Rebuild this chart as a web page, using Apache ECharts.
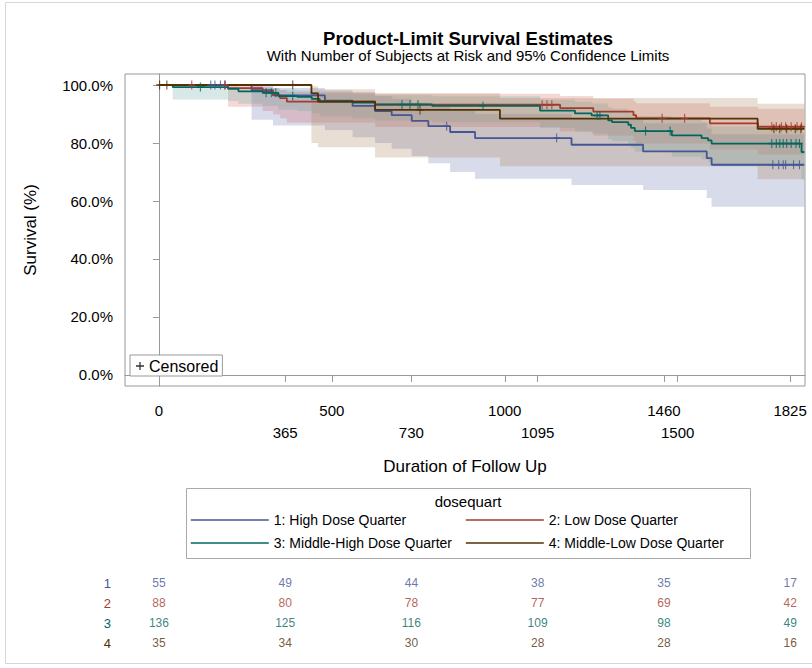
<!DOCTYPE html>
<html><head><meta charset="utf-8">
<script src="https://cdn.jsdelivr.net/npm/echarts@6/dist/echarts.min.js"></script>
<style>html,body{margin:0;padding:0;background:#fff}#c{width:812px;height:668px}</style>
</head><body><div id="c"></div>
<script>
// ---------- data ----------
const groupNames = ['1: High Dose Quarter', '2: Low Dose Quarter', '3: Middle-High Dose Quarter', '4: Middle-Low Dose Quarter'];
const groupLabels = ['1', '2', '3', '4'];
const followUpEnd = 1866;

// Kaplan-Meier step curves: [day, survival %]
const curve1 = [[0,100],[268,98.2],[330,96.4],[480,94.6],[560,92.8],[625,91.0],[673,89.6],[731,87.6],[779,85.8],[842,83.8],[914,81.7],[1193,79.4],[1400,77.1],[1584,74.8],[1598,72.5]];
const curve2 = [[0,100],[200,98.9],[300,97.7],[330,96.6],[350,95.5],[370,94.3],[625,93.2],[1160,92.0],[1256,90.8],[1372,89.6],[1380,88.5],[1593,86.8],[1732,85.6]];
const curve3 = [[0,100],[40,99.3],[200,98.7],[230,97.8],[300,97.3],[345,96.2],[400,95.9],[442,95.2],[465,94.4],[560,93.9],[625,93.3],[790,92.8],[1102,91.2],[1203,90.2],[1251,89.5],[1299,87.8],[1310,87.2],[1357,86.3],[1365,85.2],[1376,84.1],[1483,82.6],[1569,81.7],[1588,80.9],[1598,79.8],[1858,76.9]];
const curve4 = [[0,100],[441,97.1],[460,94.3],[625,91.4],[986,88.4],[1731,84.9]];

// censoring days
const censor1 = [150,162,178,190,832,1150,1775,1792,1805,1812,1835,1852];
const censor2 = [95,192,1108,1122,1136,1455,1520,1772,1785,1800,1812,1828,1845,1858];
const censor3 = [120,310,325,338,387,703,726,749,937,1267,1275,1407,1478,1772,1785,1795,1805,1815,1828,1842,1852];
const censor4 = [2,23,387,755,1778,1795,1815,1840,1856];

// 95% confidence bands: [start day, lower %, upper %]
const band1 = [[268,88,99.7],[330,86,99],[480,84.5,98.2],[560,82,97.3],[625,80,96.2],[673,78,95.3],[731,75.5,94],[779,73,92.8],[842,70,91.5],[914,67.7,90],[1193,65.5,88.5],[1400,63.8,86.8],[1584,61,85],[1598,58,83]];
const band2 = [[200,92.5,99.8],[300,91,99.3],[330,89.8,98.9],[350,88.5,98.3],[370,87,97.6],[625,85.5,97],[1160,84,96.2],[1256,82.5,95.3],[1372,80.8,94.4],[1380,79.8,93.7],[1593,77.8,92.5],[1732,76,91.8]];
const band3 = [[40,95,99.9],[200,94.5,99.6],[230,93.5,99.3],[300,92.8,99],[345,91.5,98.4],[400,91,98.2],[442,90.2,97.8],[465,89.2,97.2],[560,88.5,96.9],[625,87.8,96.5],[790,87.2,96.1],[1102,85.2,94.9],[1203,84,94.2],[1251,83.2,93.6],[1299,81.3,92.3],[1310,80.6,91.8],[1357,79.6,91.1],[1365,78.3,90.2],[1376,77,89.3],[1483,75.3,88],[1569,74.3,87.3],[1588,73.4,86.6],[1598,72,85.7],[1858,67.5,84]];
const band4 = [[441,80,99.6],[460,78.5,98.5],[625,75,97.2],[986,72,95.5],[1731,67.5,93.5]];

// number at risk
const riskDays = [0,365,730,1095,1460,1825];
const risk1 = [55,49,44,38,35,17];
const risk2 = [88,80,78,77,69,42];
const risk3 = [136,125,116,109,98,49];
const risk4 = [35,34,30,28,28,16];

// ticks
const yTicks = [0,20,40,60,80,100];
const xTicks = [0,365,500,730,1000,1095,1460,1500,1825];
const xTicksSecondRow = [365,730,1095,1500];

// ---------- styles ----------
const lineColors = ['#445694','#A23A2E','#01665E','#543005'];
const bandColors = ['rgba(111,126,179,0.28)','rgba(208,91,91,0.24)','rgba(102,165,160,0.26)','rgba(169,134,91,0.27)'];
const FONT = 'Liberation Sans, Arial, Helvetica, sans-serif';
const plusPath = 'path://M4.2,0h1.6v4.2h4.2v1.6h-4.2v4.2h-1.6v-4.2h-4.2v-1.6h4.2z';

const curves = [curve1, curve2, curve3, curve4];
const censors = [censor1, censor2, censor3, censor4];
const bands = [band1, band2, band3, band4];
const risks = [risk1, risk2, risk3, risk4];

function survAt(curve, d) {
  let s = curve[0][1];
  for (const p of curve) if (p[0] <= d) s = p[1];
  return s;
}

const series = [];
bands.forEach((band, g) => {
  const items = band.map((b, i) => [b[0], i + 1 < band.length ? band[i + 1][0] : followUpEnd, b[1], b[2]]);
  series.push({
    type: 'custom', name: 'band' + g, xAxisIndex: 0, yAxisIndex: 0, z: 1, silent: true,
    data: items, encode: { x: [0, 1], y: [2, 3] },
    renderItem: (params, api) => {
      if (params.dataIndex !== 0) return null;
      const up = [], lo = [];
      items.forEach(it => {
        up.push(api.coord([it[0], it[3]]), api.coord([it[1], it[3]]));
        lo.push(api.coord([it[0], it[2]]), api.coord([it[1], it[2]]));
      });
      return { type: 'polygon', shape: { points: up.concat(lo.reverse()) }, style: { fill: bandColors[g] } };
    }
  });
});
curves.forEach((c, g) => {
  series.push({
    type: 'line', name: groupNames[g], step: 'end', symbol: 'none', showSymbol: false, z: 3,
    data: c.concat([[followUpEnd, c[c.length - 1][1]]]),
    lineStyle: { color: lineColors[g], width: 1.8 }, itemStyle: { color: lineColors[g] },
    animation: false
  });
});
censors.forEach((cs, g) => {
  series.push({
    type: 'scatter', name: 'censor' + g, symbol: plusPath, symbolSize: [7, 9], z: 4,
    data: cs.map(d => [d, survAt(curves[g], d)]),
    itemStyle: { color: lineColors[g] }, silent: true, animation: false
  });
});
series.push({ type: 'scatter', name: 'Censored', symbol: plusPath, data: [], itemStyle: { color: '#000' } });
risks.forEach((r, g) => {
  series.push({
    type: 'scatter', name: 'risk' + g, xAxisIndex: 1, yAxisIndex: 1, symbolSize: 0, silent: true,
    data: r.map((n, i) => [riskDays[i], g, n]),
    label: { show: true, position: 'inside', formatter: p => String(p.value[2]), color: lineColors[g], fontSize: 12, fontFamily: FONT },
    animation: false
  });
});

const groupLegendBase = {
  orient: 'vertical', top: 513, itemGap: 9, itemWidth: 78, itemHeight: 16,
  selectedMode: false, padding: 0,
  itemStyle: { opacity: 0 }, lineStyle: { width: 1.6 },
  textStyle: { fontSize: 14, color: '#000', fontFamily: FONT }
};

const chart = echarts.init(document.getElementById('c'), null, { renderer: 'svg' });
chart.setOption({
  animation: false,
  backgroundColor: '#fff',
  textStyle: { fontFamily: FONT },
  grid: [
    { left: 125, right: 7, top: 74, bottom: 282, show: true, borderColor: '#999', borderWidth: 1, containLabel: false },
    { left: 125, right: 7, top: 573, height: 80, show: false }
  ],
  xAxis: [
    {
      type: 'value', gridIndex: 0, min: -98, max: 1868,
      name: 'Duration of Follow Up', nameLocation: 'middle', nameGap: 72,
      nameTextStyle: { fontSize: 17, color: '#000', fontFamily: FONT },
      axisLine: { show: true, lineStyle: { color: '#999' } },
      axisTick: { show: true, length: 7, lineStyle: { color: '#999' }, customValues: xTicks },
      axisLabel: { customValues: xTicks, fontSize: 15, color: '#000', lineHeight: 22, margin: 13,
        formatter: v => xTicksSecondRow.includes(v) ? '\n' + v : String(v) },
      splitLine: { show: false }
    },
    { type: 'value', gridIndex: 1, min: -98, max: 1868, show: false }
  ],
  yAxis: [
    {
      type: 'value', gridIndex: 0, min: -3.8, max: 103.8,
      name: 'Survival (%)', nameLocation: 'middle', nameGap: 86, nameRotate: 90,
      nameTextStyle: { fontSize: 17, color: '#000', fontFamily: FONT },
      axisLine: { show: true, lineStyle: { color: '#999' } },
      axisTick: { show: true, length: 6, lineStyle: { color: '#999' }, customValues: yTicks },
      axisLabel: { customValues: yTicks, fontSize: 15, color: '#000', margin: 12, formatter: v => v.toFixed(1) + '%' },
      splitLine: { show: false }
    },
    {
      type: 'category', gridIndex: 1, data: groupLabels, inverse: true,
      axisLine: { show: false }, axisTick: { show: false },
      axisLabel: { fontSize: 13, margin: 14, color: (v, i) => lineColors[i] }
    }
  ],
  legend: [
    Object.assign({ data: [groupNames[0], groupNames[2]], left: 190 }, groupLegendBase),
    Object.assign({ data: [groupNames[1], groupNames[3]], left: 465 }, groupLegendBase),
    { data: [{ name: 'Censored', icon: plusPath }], left: 130, top: 355, itemWidth: 8, itemHeight: 8,
      selectedMode: false, padding: [3, 4, 2, 6], borderColor: '#999', borderWidth: 1, backgroundColor: '#fff',
      textStyle: { fontSize: 16, color: '#000', fontFamily: FONT } }
  ],
  graphic: [
    { type: 'rect', shape: { x: 5.5, y: 2.5, width: 830, height: 661 }, style: { fill: 'none', stroke: '#d6d6d6', lineWidth: 1 }, silent: true },
    { type: 'text', x: 468, y: 38, style: { text: 'Product-Limit Survival Estimates', font: 'bold 18.5px ' + FONT, fill: '#000', textAlign: 'center', textVerticalAlign: 'middle' } },
    { type: 'text', x: 468, y: 55, style: { text: 'With Number of Subjects at Risk and 95% Confidence Limits', font: '15px ' + FONT, fill: '#000', textAlign: 'center', textVerticalAlign: 'middle' } },
    { type: 'rect', shape: { x: 186.5, y: 488.5, width: 564, height: 70 }, style: { fill: 'none', stroke: '#aaa', lineWidth: 1 }, silent: true },
    { type: 'text', x: 468, y: 501, style: { text: 'dosequart', font: '15px ' + FONT, fill: '#000', textAlign: 'center', textVerticalAlign: 'middle' } }
  ],
  series: series
});
</script>
</body></html>
